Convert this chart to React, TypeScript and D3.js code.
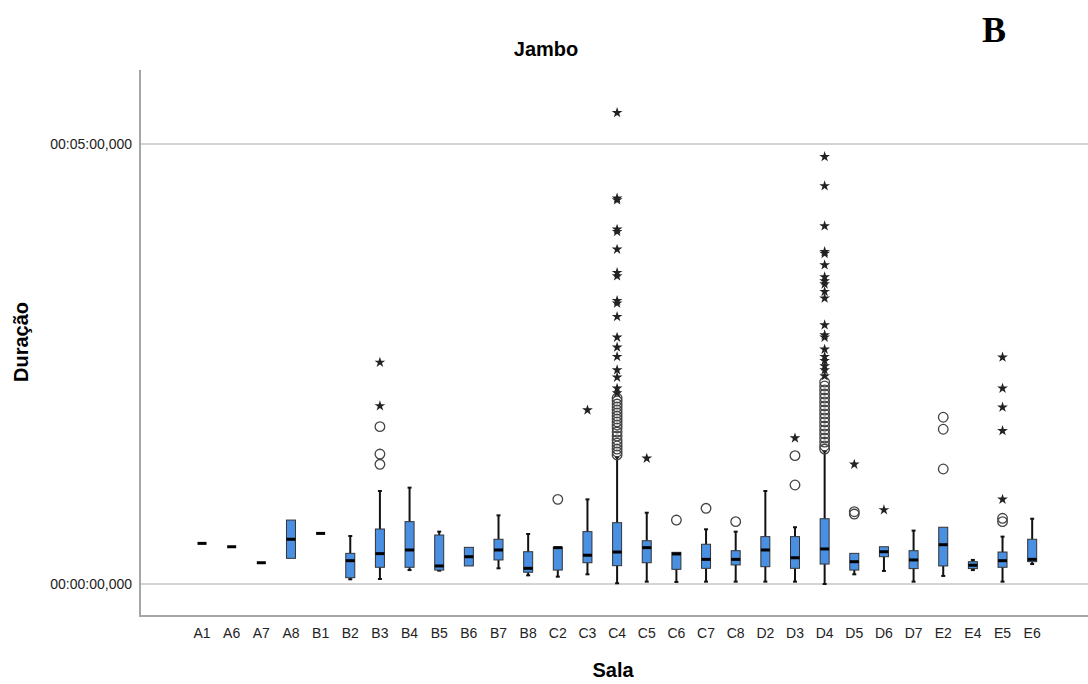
import * as d3 from 'd3';
import React from 'react';

// Sala categories, in the order shown on the x axis
const salas = [
  'A1', 'A6', 'A7', 'A8', 'B1', 'B2', 'B3', 'B4', 'B5', 'B6', 'B7', 'B8', 'C2', 'C3', 'C4',
  'C5', 'C6', 'C7', 'C8', 'D2', 'D3', 'D4', 'D5', 'D6', 'D7', 'E2', 'E4', 'E5', 'E6',
];

// box summaries in seconds, same order as salas
const lowWhisker = [
  27.7, 25.4, 14.5, 17.5, 34.5, 3.2, 3.4, 9.5, 9.1, 12.3, 10.7, 5.9, 5.0, 6.6, 0.5,
  1.6, 1.4, 1.6, 1.6, 1.6, 1.6, 0.0, 6.6, 8.9, 1.6, 5.5, 9.5, 1.6, 13.6,
];
const q1 = [
  27.7, 25.4, 14.5, 17.5, 34.5, 4.3, 11.4, 11.4, 9.5, 12.3, 16.4, 8.0, 9.5, 14.5, 12.5,
  14.5, 10.0, 10.7, 13.0, 11.8, 10.7, 13.6, 9.5, 18.6, 10.5, 12.3, 10.5, 11.4, 15.2,
];
const median = [
  27.7, 25.4, 14.5, 30.5, 34.5, 15.9, 20.7, 23.2, 12.3, 18.6, 23.2, 10.7, 24.8, 19.6, 21.8,
  24.8, 20.5, 16.8, 16.8, 23.2, 17.9, 23.9, 15.2, 22.0, 16.4, 26.8, 12.8, 15.9, 16.8,
];
const q3 = [
  27.7, 25.4, 14.5, 43.6, 34.5, 20.9, 37.5, 42.5, 33.4, 25.0, 30.5, 22.0, 25.0, 35.7, 41.8,
  29.5, 21.6, 27.1, 22.7, 32.3, 32.3, 44.5, 20.9, 25.4, 22.7, 38.7, 15.2, 21.8, 30.5,
];
const highWhisker = [
  27.7, 25.4, 14.5, 43.6, 34.5, 32.7, 63.4, 65.7, 35.7, 25.0, 46.8, 34.1, 25.0, 57.7, 86.6,
  48.6, 21.6, 37.3, 35.7, 63.4, 38.7, 90.5, 20.9, 25.4, 36.4, 38.7, 16.4, 32.3, 44.5,
];

// outliers (circles) and extremes (stars): [sala, seconds]
const outliers: [string, number][] = [
  ['B3', 107.3], ['B3', 88.6], ['B3', 81.6],
  ['C2', 57.7],
  ['C4', 126.8], ['C4', 124.8], ['C4', 122.7], ['C4', 120.7], ['C4', 118.6], ['C4', 116.6],
  ['C4', 114.5], ['C4', 112.5], ['C4', 110.5], ['C4', 108.4], ['C4', 106.4], ['C4', 103.6],
  ['C4', 100.9], ['C4', 98.2], ['C4', 96.1], ['C4', 94.1], ['C4', 92.0], ['C4', 90.0], ['C4', 88.0],
  ['C6', 43.6], ['C7', 51.6], ['C8', 42.5],
  ['D3', 87.5], ['D3', 67.5],
  ['D4', 137.7], ['D4', 135.0], ['D4', 132.3], ['D4', 129.5], ['D4', 126.8], ['D4', 124.1],
  ['D4', 121.4], ['D4', 118.6], ['D4', 115.9], ['D4', 113.2], ['D4', 110.5], ['D4', 107.7],
  ['D4', 105.0], ['D4', 102.3], ['D4', 99.5], ['D4', 96.8], ['D4', 94.1], ['D4', 92.0],
  ['D5', 49.3], ['D5', 47.7],
  ['E2', 113.7], ['E2', 105.5], ['E2', 78.4],
  ['E5', 44.8], ['E5', 42.5],
];
const extremes: [string, number][] = [
  ['B3', 151.1], ['B3', 121.4],
  ['C3', 118.6],
  ['C4', 321.3], ['C4', 263.0], ['C4', 261.8], ['C4', 241.8], ['C4', 240.2], ['C4', 228.2],
  ['C4', 212.3], ['C4', 210.0], ['C4', 193.2], ['C4', 191.4], ['C4', 182.3], ['C4', 168.2],
  ['C4', 161.4], ['C4', 155.0], ['C4', 145.9], ['C4', 140.9], ['C4', 133.4], ['C4', 130.2],
  ['C5', 85.7],
  ['D3', 99.5],
  ['D4', 291.3], ['D4', 271.4], ['D4', 244.1], ['D4', 226.6], ['D4', 225.3], ['D4', 217.5],
  ['D4', 209.3], ['D4', 206.6], ['D4', 204.5], ['D4', 199.3], ['D4', 194.8], ['D4', 176.6],
  ['D4', 169.8], ['D4', 168.2], ['D4', 160.0], ['D4', 155.0], ['D4', 152.3], ['D4', 148.6],
  ['D4', 145.9], ['D4', 141.8],
  ['D5', 81.6], ['D6', 50.5],
  ['E5', 154.6], ['E5', 133.4], ['E5', 120.5], ['E5', 104.5], ['E5', 57.7],
];

const yTicks = [0, 300];
const yTickLabels = ['00:00:00,000', '00:05:00,000'];

export default function App() {
  const svgRef = React.useRef<SVGSVGElement>(null);

  React.useEffect(() => {
    if (svgRef.current == null) {
      return;
    }
    const w = 1088;
    const left = 140;
    const sans = "'Liberation Sans', Arial, sans-serif";

    const svg = d3.select(svgRef.current);
    svg.selectAll('*').remove();

    const xScale = d3.scaleBand<string>().domain(salas).range([187.2, 1047]).padding(0);
    const cx = (s: string) => (xScale(s) ?? 0) + xScale.bandwidth() / 2;
    const yScale = d3.scaleLinear().domain([0, 300]).range([584, 144]);

    // gridlines
    svg
      .append('g')
      .selectAll('line')
      .data(yTicks)
      .join('line')
      .attr('x1', left)
      .attr('x2', w)
      .attr('y1', (d) => yScale(d))
      .attr('y2', (d) => yScale(d))
      .attr('stroke', '#d4d4d4')
      .attr('stroke-width', 2);

    // axis frame
    svg
      .append('line')
      .attr('x1', left)
      .attr('x2', left)
      .attr('y1', 70)
      .attr('y2', 617)
      .attr('stroke', '#a6a6a6')
      .attr('stroke-width', 2);
    svg
      .append('line')
      .attr('x1', left - 1)
      .attr('x2', w)
      .attr('y1', 616)
      .attr('y2', 616)
      .attr('stroke', '#a6a6a6')
      .attr('stroke-width', 2);

    // y tick labels
    svg
      .append('g')
      .selectAll('text')
      .data(yTicks)
      .join('text')
      .attr('x', 132)
      .attr('y', (d) => yScale(d) + 5)
      .attr('text-anchor', 'end')
      .style('font', `14px ${sans}`)
      .attr('fill', '#222')
      .text((_, i) => yTickLabels[i]);

    // x tick labels
    svg
      .append('g')
      .selectAll('text')
      .data(salas)
      .join('text')
      .attr('x', (d) => cx(d))
      .attr('y', 638)
      .attr('text-anchor', 'middle')
      .style('font', `14px ${sans}`)
      .attr('fill', '#222')
      .text((d) => d);

    // titles
    svg
      .append('text')
      .attr('x', 546)
      .attr('y', 56)
      .attr('text-anchor', 'middle')
      .style('font', `bold 20px ${sans}`)
      .text('Jambo');
    svg
      .append('text')
      .attr('x', 613)
      .attr('y', 677)
      .attr('text-anchor', 'middle')
      .style('font', `bold 20px ${sans}`)
      .text('Sala');
    svg
      .append('text')
      .attr('transform', 'translate(28, 342) rotate(-90)')
      .attr('text-anchor', 'middle')
      .style('font', `bold 20px ${sans}`)
      .text('Duração');
    svg
      .append('text')
      .attr('x', 994)
      .attr('y', 42)
      .attr('text-anchor', 'middle')
      .style('font', "bold 36px 'Liberation Serif', 'Times New Roman', serif")
      .text('B');

    const boxW = 9;
    const capW = 4;
    const boxes = svg.append('g');
    salas.forEach((s, i) => {
      const x = cx(s);
      const g = boxes.append('g');
      // whiskers
      g.append('line')
        .attr('x1', x)
        .attr('x2', x)
        .attr('y1', yScale(q1[i]))
        .attr('y2', yScale(lowWhisker[i]))
        .attr('stroke', '#111')
        .attr('stroke-width', 2);
      g.append('line')
        .attr('x1', x)
        .attr('x2', x)
        .attr('y1', yScale(q3[i]))
        .attr('y2', yScale(highWhisker[i]))
        .attr('stroke', '#111')
        .attr('stroke-width', 2);
      if (lowWhisker[i] < q1[i]) {
        g.append('line')
          .attr('x1', x - capW / 2)
          .attr('x2', x + capW / 2)
          .attr('y1', yScale(lowWhisker[i]))
          .attr('y2', yScale(lowWhisker[i]))
          .attr('stroke', '#111')
          .attr('stroke-width', 2);
      }
      if (highWhisker[i] > q3[i]) {
        g.append('line')
          .attr('x1', x - capW / 2)
          .attr('x2', x + capW / 2)
          .attr('y1', yScale(highWhisker[i]))
          .attr('y2', yScale(highWhisker[i]))
          .attr('stroke', '#111')
          .attr('stroke-width', 2);
      }
      // box
      g.append('rect')
        .attr('x', x - boxW / 2)
        .attr('y', yScale(q3[i]))
        .attr('width', boxW)
        .attr('height', Math.max(0, yScale(q1[i]) - yScale(q3[i])))
        .attr('fill', '#4a90e2')
        .attr('stroke', '#333')
        .attr('stroke-width', 1);
      // median
      g.append('line')
        .attr('x1', x - boxW / 2)
        .attr('x2', x + boxW / 2)
        .attr('y1', yScale(median[i]))
        .attr('y2', yScale(median[i]))
        .attr('stroke', '#000')
        .attr('stroke-width', 3);
    });

    // outlier circles
    svg
      .append('g')
      .selectAll('circle')
      .data(outliers)
      .join('circle')
      .attr('cx', (d) => cx(d[0]))
      .attr('cy', (d) => yScale(d[1]))
      .attr('r', 4.8)
      .attr('fill', 'none')
      .attr('stroke', '#444')
      .attr('stroke-width', 1.3);

    // extreme stars
    const star = d3.symbol().type(d3.symbolStar).size(36);
    svg
      .append('g')
      .selectAll('path')
      .data(extremes)
      .join('path')
      .attr('transform', (d) => `translate(${cx(d[0])}, ${yScale(d[1])})`)
      .attr('d', star)
      .attr('fill', '#222');
  }, []);

  return (
    <svg
      ref={svgRef}
      width={1088}
      height={684}
      style={{ position: 'absolute', left: 0, top: 0, background: '#fff' }}
    ></svg>
  );
}
